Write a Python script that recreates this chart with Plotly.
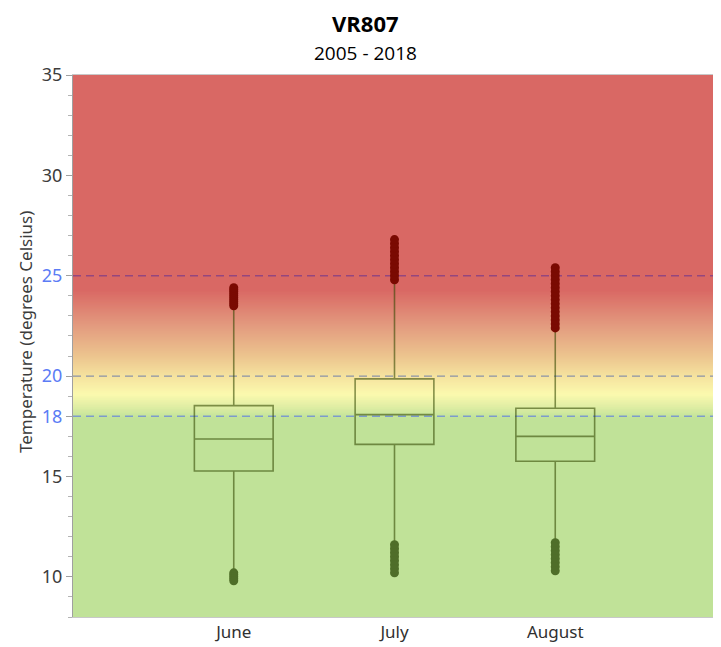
import plotly.graph_objects as go

months = ["June", "July", "August"]
q1 = [15.27, 16.6, 15.76]
median = [16.87, 18.08, 17.0]
q3 = [18.53, 19.86, 18.4]
lower_fence = [10.3, 11.6, 11.7]
upper_fence = [23.5, 24.8, 22.4]

# outliers (they render as dense stacks)
out_june = [23.5, 23.6, 23.7, 23.8, 23.9, 24.0, 24.1, 24.2, 24.3, 24.4, 10.2, 10.1, 10.0, 9.9, 9.8]
out_july = [24.8, 25.0, 25.2, 25.4, 25.6, 25.8, 26.0, 26.2, 26.4, 26.6, 26.8,
            11.6, 11.4, 11.2, 11.0, 10.8, 10.6, 10.4, 10.2]
out_aug = [22.4, 22.6, 22.8, 23.0, 23.2, 23.4, 23.6, 23.8, 24.0, 24.2, 24.4, 24.6, 24.8, 25.0, 25.2, 25.4,
           11.7, 11.5, 11.3, 11.1, 10.9, 10.7, 10.5, 10.3]

thresholds = [25, 20, 18]
threshold_colors = ["#94467f", "#8b93a8", "#7d9bcc"]

# background gradient stops (temperature, rgb)
grad = [(8, (192, 226, 152)), (17.9, (192, 226, 152)), (18.5, (225, 238, 165)),
        (19.1, (251, 249, 174)), (20.0, (245, 226, 158)), (21.0, (236, 196, 142)),
        (22.5, (227, 155, 127)), (24.3, (217, 104, 100)), (35, (217, 102, 100))]


def grad_color(t):
    for (a, ca), (b, cb) in zip(grad[:-1], grad[1:]):
        if a <= t <= b:
            f = (t - a) / (b - a)
            c = [round(ca[i] + (cb[i] - ca[i]) * f) for i in range(3)]
            return "rgb(%d,%d,%d)" % tuple(c)
    return "rgb(%d,%d,%d)" % grad[-1][1]


# stacked strips: each one runs to the top, so the next covers it (no seams)
shapes = []
shapes.append(dict(type="rect", xref="paper", yref="y", x0=0, x1=1, y0=8, y1=35,
                   fillcolor=grad_color(8), line_width=0, layer="below"))
step = 0.05
n = int(round((24.6 - 17.6) / step))
for i in range(n):
    y0 = 17.6 + i * step
    shapes.append(dict(type="rect", xref="paper", yref="y", x0=0, x1=1, y0=y0, y1=35,
                       fillcolor=grad_color(y0 + step / 2), line_width=0, layer="below"))
for t, c in zip(thresholds, threshold_colors):
    shapes.append(dict(type="line", xref="paper", yref="y", x0=0, x1=1, y0=t, y1=t,
                       line=dict(color=c, width=1.3, dash="8px,5px"), layer="below"))

fig = go.Figure()
fig.add_trace(go.Box(
    x=months, q1=q1, median=median, q3=q3,
    lowerfence=lower_fence, upperfence=upper_fence,
    boxpoints=False, width=0.49, whiskerwidth=0,
    fillcolor="rgba(0,0,0,0)",
    line=dict(color="rgba(50,70,0,0.58)", width=1.6),
    showlegend=False, hoverinfo="skip",
))

for m, vals in zip(months, [out_june, out_july, out_aug]):
    cols = ["#7a0a02" if v > 20 else "#4f6e29" for v in vals]
    fig.add_trace(go.Scatter(
        x=[m] * len(vals), y=vals, mode="markers",
        marker=dict(size=9, color=cols, line_width=0),
        showlegend=False, hoverinfo="skip",
    ))

blue = "#5b7cf5"
tickvals = [10, 15, 18, 20, 25, 30, 35]
ticktext = ["10", "15", f"<span style='color:{blue}'>18</span>", f"<span style='color:{blue}'>20</span>",
            f"<span style='color:{blue}'>25</span>", "30", "35"]

# page body adds an 8px offset, so the figure is a bit smaller than the window
fig.update_layout(
    width=713, height=639,
    margin=dict(l=65, r=5, t=67, b=30, autoexpand=False),
    plot_bgcolor="white", paper_bgcolor="white",
    font=dict(family="Noto Sans", color="#3c3c3c"),
    shapes=shapes,
    annotations=[
        dict(text="<b>VR807</b>", xref="paper", yref="paper", x=0.455, y=1 + 52 / 542,
             xanchor="center", yanchor="middle", showarrow=False,
             font=dict(family="Open Sans", size=22, color="black")),
        dict(text="2005 - 2018", xref="paper", yref="paper", x=0.455, y=1 + 22 / 542,
             xanchor="center", yanchor="middle", showarrow=False,
             font=dict(family="Open Sans", size=19, color="black")),
        # y title sits a little above the axis middle in the original
        dict(text="Temperature (degrees Celsius)", xref="paper", yref="paper",
             x=-48 / 643, y=285 / 542, textangle=-90,
             xanchor="center", yanchor="middle", showarrow=False,
             font=dict(size=17, color="#3c3c3c")),
    ],
)

fig.update_xaxes(
    type="category", range=[-1, 3],
    showgrid=False, zeroline=False,
    showline=True, linecolor="#c8c8c8", linewidth=1, mirror=True,
    ticks="", tickfont=dict(size=17, color="#303030"),
)
fig.update_yaxes(
    range=[8, 35], showgrid=False, zeroline=False, automargin=False,
    showline=True, linecolor="#a0a0a0", linewidth=1,
    tickmode="array", tickvals=tickvals, ticktext=ticktext,
    ticks="outside", ticklen=6, tickcolor="#a0a0a0",
    minor=dict(dtick=1, ticks="outside", ticklen=4, tickcolor="#b4b4b4"),
    tickfont=dict(size=18, color="#3c3c3c"),
)

fig.write_html("out.html")
